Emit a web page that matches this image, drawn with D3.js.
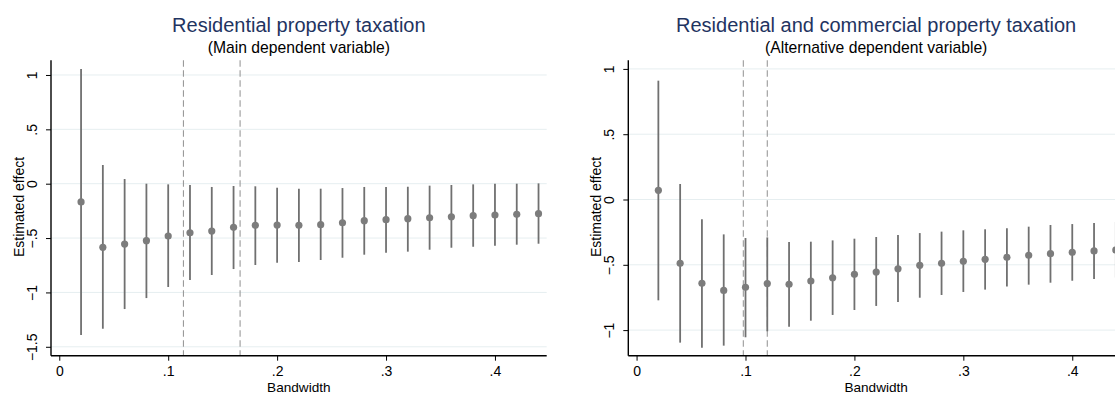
<!DOCTYPE html>
<html>
<head>
<meta charset="utf-8">
<script src="https://cdn.jsdelivr.net/npm/d3@7"></script>
<style>
  html, body { margin: 0; padding: 0; background: #ffffff; }
  svg { display: block; font-family: "Liberation Sans", Arial, Helvetica, sans-serif; }
</style>
</head>
<body>
<svg id="chart" width="1115" height="394"></svg>
<script>
// Bandwidths at which the RD effect is estimated
const bandwidths = [0.02, 0.04, 0.06, 0.08, 0.10, 0.12, 0.14, 0.16, 0.18, 0.20, 0.22,
                    0.24, 0.26, 0.28, 0.30, 0.32, 0.34, 0.36, 0.38, 0.40, 0.42, 0.44];

// Residential property taxation (main dependent variable)
const mainEstimate = [-0.168, -0.585, -0.555, -0.524, -0.481, -0.451, -0.435, -0.401, -0.383, -0.380, -0.383,
                      -0.377, -0.359, -0.340, -0.331, -0.322, -0.313, -0.304, -0.294, -0.288, -0.282, -0.276];
const mainLower = [-1.392, -1.334, -1.153, -1.052, -0.950, -0.886, -0.840, -0.785, -0.748, -0.727, -0.720,
                   -0.702, -0.681, -0.653, -0.635, -0.625, -0.607, -0.589, -0.580, -0.570, -0.561, -0.552];
const mainUpper = [1.055, 0.172, 0.043, 0.000, -0.006, -0.012, -0.030, -0.021, -0.024, -0.037, -0.046,
                   -0.046, -0.040, -0.030, -0.030, -0.028, -0.018, -0.012, -0.006, 0.000, 0.000, 0.003];
const mainCutoffs = [0.114, 0.166];

// Residential and commercial property taxation (alternative dependent variable)
const altEstimate = [0.070, -0.489, -0.642, -0.696, -0.672, -0.644, -0.649, -0.624, -0.599, -0.573, -0.555,
                     -0.530, -0.504, -0.489, -0.473, -0.458, -0.443, -0.427, -0.415, -0.404, -0.394, -0.387];
const altLower = [-0.772, -1.096, -1.135, -1.119, -1.055, -1.009, -0.974, -0.928, -0.884, -0.846, -0.815,
                  -0.785, -0.752, -0.731, -0.708, -0.690, -0.667, -0.652, -0.637, -0.622, -0.609, -0.598];
const altUpper = [0.910, 0.119, -0.152, -0.267, -0.295, -0.290, -0.325, -0.323, -0.313, -0.300, -0.287,
                  -0.272, -0.257, -0.246, -0.236, -0.228, -0.221, -0.208, -0.195, -0.188, -0.180, -0.173];
const altCutoffs = [0.098, 0.120];

// Axis ticks
const xTicks = [0, 0.1, 0.2, 0.3, 0.4];
const mainYTicks = [-1.5, -1, -0.5, 0, 0.5, 1];
const altYTicks = [-1, -0.5, 0, 0.5, 1];

const panelTitles = ["Residential property taxation", "Residential and commercial property taxation"];
const panelSubtitles = ["(Main dependent variable)", "(Alternative dependent variable)"];
const xLabel = "Bandwidth";
const yLabel = "Estimated effect";

const xDomain = [-0.0076, 0.4475];

// Stata-style number labels: drop the leading zero, long minus sign
function stataFmt(v) {
  if (v === 0) return "0";
  let s = String(Math.abs(v));
  if (s.startsWith("0.")) s = s.slice(1);
  return (v < 0 ? "\u2212" : "") + s;
}

const svg = d3.select("#chart");

function drawPanel(cfg) {
  const top = 60.3, bottom = 355.7;
  const left = cfg.left, right = cfg.left + 495.7;
  const x = d3.scaleLinear().domain(xDomain).range([left, right]);
  const y = d3.scaleLinear().domain(cfg.yDomain).range([bottom, top]);
  const g = svg.append("g");

  // horizontal grid
  g.selectAll("line.grid").data(cfg.yTicks).enter().append("line")
    .attr("x1", left).attr("x2", right)
    .attr("y1", d => y(d)).attr("y2", d => y(d))
    .attr("stroke", "#e6eef0").attr("stroke-width", 1);

  // bandwidth cut-offs
  g.selectAll("line.cut").data(cfg.cutoffs).enter().append("line")
    .attr("x1", d => x(d)).attr("x2", d => x(d))
    .attr("y1", top).attr("y2", bottom)
    .attr("stroke", "#9a9a9a").attr("stroke-width", 1.1)
    .attr("stroke-dasharray", "6.5,3.5");

  const rows = bandwidths.map((b, i) => ({ b, est: cfg.est[i], lo: cfg.lo[i], hi: cfg.hi[i] }));

  // confidence intervals
  g.selectAll("line.ci").data(rows).enter().append("line")
    .attr("x1", d => x(d.b)).attr("x2", d => x(d.b))
    .attr("y1", d => y(d.lo)).attr("y2", d => y(d.hi))
    .attr("stroke", "#707070").attr("stroke-width", 1.8);

  // point estimates
  g.selectAll("circle.pt").data(rows).enter().append("circle")
    .attr("cx", d => x(d.b)).attr("cy", d => y(d.est))
    .attr("r", 3.6).attr("fill", "#7c7c7c");

  // y axis
  const yAxis = g.append("g").attr("transform", `translate(${left},0)`)
    .call(d3.axisLeft(y).tickValues(cfg.yTicks).tickSize(5).tickSizeOuter(0).tickFormat(stataFmt));
  yAxis.select(".domain").attr("stroke", "#000").attr("stroke-width", 1.4)
    .attr("d", `M0,${top}V${bottom}`);
  yAxis.selectAll(".tick line").attr("stroke", "#000");
  yAxis.selectAll(".tick text")
    .attr("x", 0).attr("dy", 0)
    .attr("transform", "translate(-14,0) rotate(-90)")
    .attr("text-anchor", "middle")
    .attr("font-size", 14).attr("fill", "#000");

  // x axis
  const xAxis = g.append("g").attr("transform", `translate(0,${bottom})`)
    .call(d3.axisBottom(x).tickValues(xTicks).tickSize(5).tickSizeOuter(0).tickFormat(stataFmt));
  xAxis.select(".domain").attr("stroke", "#000").attr("stroke-width", 1.4)
    .attr("d", `M${left},0H${right}`);
  xAxis.selectAll(".tick line").attr("stroke", "#000");
  xAxis.selectAll(".tick text").attr("y", 0).attr("dy", 0)
    .attr("transform", "translate(0,20.3)")
    .attr("font-size", 14).attr("fill", "#000");

  const cx = (left + right) / 2;
  const cy = (top + bottom) / 2;

  g.append("text").attr("x", cx).attr("y", 391.5)
    .attr("text-anchor", "middle").attr("font-size", 13.6).attr("fill", "#000")
    .text(xLabel);

  g.append("text")
    .attr("transform", `translate(${left - 27.5},${cy - 1}) rotate(-90)`)
    .attr("text-anchor", "middle").attr("font-size", 14).attr("fill", "#000")
    .text(yLabel);

  g.append("text").attr("x", cx).attr("y", 31.8)
    .attr("text-anchor", "middle").attr("font-size", 20).attr("fill", "#1f3461")
    .text(cfg.title);

  g.append("text").attr("x", cx).attr("y", 52.8)
    .attr("text-anchor", "middle").attr("font-size", 15.7).attr("fill", "#000")
    .text(cfg.subtitle);
}

drawPanel({
  left: 51, yDomain: [-1.582, 1.135], yTicks: mainYTicks,
  est: mainEstimate, lo: mainLower, hi: mainUpper, cutoffs: mainCutoffs,
  title: panelTitles[0], subtitle: panelSubtitles[0]
});
drawPanel({
  left: 628.3, yDomain: [-1.196, 1.066], yTicks: altYTicks,
  est: altEstimate, lo: altLower, hi: altUpper, cutoffs: altCutoffs,
  title: panelTitles[1], subtitle: panelSubtitles[1]
});
</script>
</body>
</html>
